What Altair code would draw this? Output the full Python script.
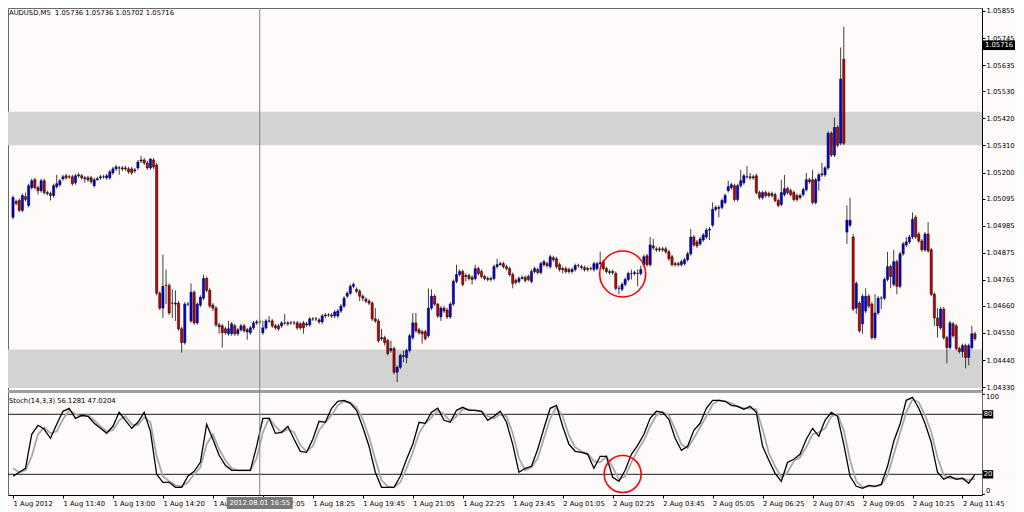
import altair as alt
import pandas as pd

# ---------------- price data (AUDUSD M5, one value per bar) ----------------
opens = [
 1.05019, 1.05083, 1.05087, 1.05047, 1.05103, 1.05067, 1.05139, 1.05171, 1.05139, 1.05127,
 1.05167, 1.05119, 1.05115, 1.05107, 1.05143, 1.05151, 1.05175, 1.05187, 1.05183, 1.05183,
 1.05159, 1.05191, 1.05187, 1.05179, 1.05179, 1.05179, 1.05147, 1.05171, 1.05179, 1.05183,
 1.05179, 1.05179, 1.05199, 1.05215, 1.05219, 1.05219, 1.05219, 1.05215, 1.05215, 1.05207,
 1.05219, 1.05247, 1.05251, 1.05239, 1.05219, 1.05251, 1.05231, 1.04711, 1.04651, 1.04743,
 1.04743, 1.04671, 1.04667, 1.04671, 1.04567, 1.04511, 1.04667, 1.04599, 1.04715, 1.04591,
 1.04663, 1.04691, 1.04771, 1.04723, 1.04663, 1.04651, 1.04583, 1.04579, 1.04567, 1.04547,
 1.04547, 1.04579, 1.04547, 1.04563, 1.04579, 1.04555, 1.04551, 1.04571, 1.04591, 1.04595,
 1.04551, 1.04571, 1.04599, 1.04599, 1.04579, 1.04579, 1.04579, 1.04591, 1.04591, 1.04591,
 1.04591, 1.04591, 1.04587, 1.04591, 1.04583, 1.04583, 1.04607, 1.04607, 1.04603, 1.04595,
 1.04619, 1.04623, 1.04623, 1.04619, 1.04619, 1.04639, 1.04659, 1.04699, 1.04711, 1.04739,
 1.04727, 1.04719, 1.04699, 1.04687, 1.04679, 1.04671, 1.04607, 1.04599, 1.04527, 1.04531,
 1.04519, 1.04479, 1.04487, 1.04391, 1.04411, 1.04459, 1.04451, 1.04479, 1.04531, 1.04591,
 1.04563, 1.04555, 1.04555, 1.04539, 1.04651, 1.04699, 1.04667, 1.04615, 1.04651, 1.04643,
 1.04615, 1.04667, 1.04759, 1.04787, 1.04799, 1.04783, 1.04783, 1.04775, 1.04771, 1.04811,
 1.04799, 1.04779, 1.04771, 1.04771, 1.04771, 1.04819, 1.04827, 1.04831, 1.04819, 1.04811,
 1.04787, 1.04763, 1.04759, 1.04771, 1.04775, 1.04779, 1.04759, 1.04799, 1.04807, 1.04795,
 1.04827, 1.04831, 1.04819, 1.04855, 1.04851, 1.04827, 1.04811, 1.04811, 1.04807, 1.04799,
 1.04807, 1.04823, 1.04819, 1.04815, 1.04811, 1.04811, 1.04807, 1.04811, 1.04831, 1.04839,
 1.04811, 1.04799, 1.04795, 1.04791, 1.04731, 1.04727, 1.04747, 1.04767, 1.04791, 1.04791,
 1.04791, 1.04791, 1.04827, 1.04863, 1.04827, 1.04903, 1.04891, 1.04891, 1.04891, 1.04891,
 1.04879, 1.04859, 1.04831, 1.04831, 1.04827, 1.04831, 1.04847, 1.04871, 1.04939, 1.04919,
 1.04911, 1.04927, 1.04939, 1.04967, 1.04987, 1.05051, 1.05059, 1.05059, 1.05079, 1.05127,
 1.05139, 1.05147, 1.05091, 1.05147, 1.05159, 1.05183, 1.05183, 1.05179, 1.05187, 1.05119,
 1.05099, 1.05119, 1.05115, 1.05115, 1.05111, 1.05087, 1.05071, 1.05111, 1.05135, 1.05127,
 1.05119, 1.05107, 1.05099, 1.05111, 1.05131, 1.05171, 1.05171, 1.05079, 1.05167, 1.05191,
 1.05191, 1.05219, 1.05359, 1.05271, 1.05383, 1.05319, 1.05659, 1.04959, 1.04987, 1.04939,
 1.04651, 1.04671, 1.04587, 1.04639, 1.04699, 1.04667, 1.04531, 1.04631, 1.04691, 1.04691,
 1.04767, 1.04819, 1.04747, 1.04839, 1.04739, 1.04871, 1.04907, 1.04919, 1.04939, 1.05019,
 1.04951, 1.04923, 1.04887, 1.04951, 1.04887, 1.04707, 1.04611, 1.04571, 1.04647, 1.04531,
 1.04491, 1.04587, 1.04579, 1.04487, 1.04475, 1.04499, 1.04451, 1.04491, 1.04547,
]
highs = [
 1.05107, 1.05091, 1.05095, 1.05115, 1.05119, 1.05155, 1.05175, 1.05179, 1.05147, 1.05175,
 1.05175, 1.05127, 1.05123, 1.05155, 1.05191, 1.05175, 1.05191, 1.05195, 1.05191, 1.05191,
 1.05195, 1.05199, 1.05195, 1.05187, 1.05187, 1.05187, 1.05179, 1.05183, 1.05191, 1.05191,
 1.05195, 1.05211, 1.05223, 1.05231, 1.05227, 1.05227, 1.05227, 1.05223, 1.05223, 1.05219,
 1.05251, 1.05267, 1.05259, 1.05247, 1.05259, 1.05259, 1.05239, 1.04719, 1.04867, 1.04807,
 1.04751, 1.04727, 1.04723, 1.04679, 1.04575, 1.04675, 1.04675, 1.04751, 1.04723, 1.04675,
 1.04703, 1.04787, 1.04779, 1.04731, 1.04671, 1.04659, 1.04591, 1.04587, 1.04575, 1.04599,
 1.04595, 1.04587, 1.04571, 1.04587, 1.04587, 1.04571, 1.04579, 1.04599, 1.04603, 1.04603,
 1.04599, 1.04607, 1.04619, 1.04607, 1.04587, 1.04587, 1.04599, 1.04627, 1.04599, 1.04599,
 1.04599, 1.04599, 1.04595, 1.04599, 1.04595, 1.04615, 1.04615, 1.04615, 1.04611, 1.04627,
 1.04631, 1.04631, 1.04631, 1.04643, 1.04647, 1.04667, 1.04699, 1.04719, 1.04747, 1.04755,
 1.04735, 1.04727, 1.04707, 1.04695, 1.04687, 1.04679, 1.04651, 1.04607, 1.04567, 1.04539,
 1.04527, 1.04519, 1.04495, 1.04419, 1.04467, 1.04479, 1.04487, 1.04547, 1.04631, 1.04631,
 1.04571, 1.04563, 1.04563, 1.04731, 1.04727, 1.04707, 1.04671, 1.04659, 1.04659, 1.04651,
 1.04675, 1.04767, 1.04827, 1.04807, 1.04807, 1.04791, 1.04791, 1.04783, 1.04827, 1.04819,
 1.04807, 1.04787, 1.04779, 1.04779, 1.04827, 1.04851, 1.04839, 1.04839, 1.04827, 1.04819,
 1.04795, 1.04771, 1.04779, 1.04783, 1.04783, 1.04787, 1.04807, 1.04819, 1.04815, 1.04839,
 1.04847, 1.04839, 1.04867, 1.04863, 1.04859, 1.04835, 1.04819, 1.04819, 1.04815, 1.04815,
 1.04831, 1.04831, 1.04827, 1.04823, 1.04819, 1.04819, 1.04839, 1.04839, 1.04879, 1.04847,
 1.04819, 1.04807, 1.04807, 1.04799, 1.04743, 1.04755, 1.04775, 1.04799, 1.04807, 1.04803,
 1.04807, 1.04823, 1.04867, 1.04871, 1.04939, 1.04931, 1.04899, 1.04899, 1.04899, 1.04899,
 1.04887, 1.04867, 1.04839, 1.04839, 1.04847, 1.04855, 1.04879, 1.04971, 1.04947, 1.04927,
 1.04939, 1.04955, 1.04975, 1.04979, 1.05079, 1.05067, 1.05067, 1.05095, 1.05115, 1.05167,
 1.05159, 1.05155, 1.05155, 1.05211, 1.05195, 1.05227, 1.05199, 1.05191, 1.05195, 1.05127,
 1.05127, 1.05127, 1.05123, 1.05123, 1.05119, 1.05095, 1.05171, 1.05191, 1.05143, 1.05135,
 1.05127, 1.05115, 1.05115, 1.05139, 1.05199, 1.05179, 1.05211, 1.05179, 1.05199, 1.05239,
 1.05227, 1.05367, 1.05367, 1.05423, 1.05391, 1.05707, 1.05791, 1.05067, 1.05099, 1.04951,
 1.04759, 1.04679, 1.04707, 1.04731, 1.04707, 1.04675, 1.04707, 1.04699, 1.04699, 1.04775,
 1.04879, 1.04827, 1.04887, 1.04847, 1.04879, 1.04919, 1.04939, 1.04947, 1.05039, 1.05027,
 1.04959, 1.04931, 1.04959, 1.04999, 1.04895, 1.04715, 1.04651, 1.04655, 1.04655, 1.04539,
 1.04599, 1.04595, 1.04587, 1.04495, 1.04507, 1.04507, 1.04507, 1.04579, 1.04555,
]
lows = [
 1.05011, 1.05067, 1.05039, 1.05039, 1.05083, 1.05059, 1.05131, 1.05131, 1.05111, 1.05119,
 1.05111, 1.05107, 1.05087, 1.05099, 1.05135, 1.05143, 1.05167, 1.05171, 1.05175, 1.05147,
 1.05151, 1.05179, 1.05171, 1.05159, 1.05163, 1.05155, 1.05139, 1.05167, 1.05171, 1.05175,
 1.05171, 1.05171, 1.05191, 1.05207, 1.05191, 1.05207, 1.05207, 1.05195, 1.05191, 1.05199,
 1.05211, 1.05239, 1.05231, 1.05211, 1.05211, 1.05215, 1.04703, 1.04643, 1.04611, 1.04667,
 1.04623, 1.04611, 1.04599, 1.04559, 1.04471, 1.04503, 1.04659, 1.04591, 1.04583, 1.04583,
 1.04655, 1.04683, 1.04715, 1.04651, 1.04639, 1.04575, 1.04547, 1.04491, 1.04543, 1.04539,
 1.04539, 1.04539, 1.04539, 1.04555, 1.04551, 1.04523, 1.04543, 1.04563, 1.04583, 1.04587,
 1.04543, 1.04563, 1.04591, 1.04571, 1.04563, 1.04559, 1.04571, 1.04583, 1.04579, 1.04583,
 1.04583, 1.04563, 1.04563, 1.04547, 1.04575, 1.04575, 1.04599, 1.04599, 1.04587, 1.04587,
 1.04611, 1.04615, 1.04611, 1.04611, 1.04611, 1.04631, 1.04651, 1.04691, 1.04703, 1.04731,
 1.04711, 1.04679, 1.04679, 1.04671, 1.04663, 1.04599, 1.04591, 1.04511, 1.04519, 1.04499,
 1.04459, 1.04471, 1.04383, 1.04351, 1.04403, 1.04431, 1.04427, 1.04471, 1.04523, 1.04551,
 1.04543, 1.04507, 1.04519, 1.04531, 1.04643, 1.04659, 1.04611, 1.04599, 1.04631, 1.04607,
 1.04607, 1.04659, 1.04751, 1.04779, 1.04739, 1.04759, 1.04763, 1.04747, 1.04763, 1.04783,
 1.04771, 1.04763, 1.04759, 1.04759, 1.04763, 1.04811, 1.04823, 1.04811, 1.04803, 1.04779,
 1.04731, 1.04747, 1.04751, 1.04767, 1.04755, 1.04759, 1.04751, 1.04791, 1.04787, 1.04787,
 1.04819, 1.04815, 1.04811, 1.04839, 1.04811, 1.04799, 1.04791, 1.04791, 1.04791, 1.04791,
 1.04799, 1.04815, 1.04807, 1.04799, 1.04799, 1.04803, 1.04799, 1.04803, 1.04823, 1.04803,
 1.04791, 1.04787, 1.04787, 1.04723, 1.04707, 1.04719, 1.04739, 1.04759, 1.04767, 1.04783,
 1.04739, 1.04783, 1.04819, 1.04819, 1.04819, 1.04887, 1.04879, 1.04879, 1.04879, 1.04871,
 1.04843, 1.04819, 1.04819, 1.04819, 1.04819, 1.04823, 1.04839, 1.04863, 1.04899, 1.04895,
 1.04903, 1.04919, 1.04931, 1.04927, 1.04979, 1.05043, 1.05019, 1.05051, 1.05071, 1.05119,
 1.05131, 1.05083, 1.05083, 1.05139, 1.05151, 1.05175, 1.05171, 1.05171, 1.05111, 1.05091,
 1.05091, 1.05099, 1.05099, 1.05099, 1.05079, 1.05059, 1.05063, 1.05103, 1.05111, 1.05103,
 1.05083, 1.05083, 1.05091, 1.05103, 1.05123, 1.05155, 1.05071, 1.05071, 1.05127, 1.05183,
 1.05183, 1.05211, 1.05263, 1.05263, 1.05303, 1.05311, 1.05311, 1.04911, 1.04979, 1.04639,
 1.04627, 1.04551, 1.04547, 1.04631, 1.04651, 1.04523, 1.04523, 1.04623, 1.04647, 1.04683,
 1.04759, 1.04731, 1.04739, 1.04707, 1.04731, 1.04863, 1.04899, 1.04911, 1.04931, 1.04931,
 1.04915, 1.04879, 1.04879, 1.04875, 1.04699, 1.04579, 1.04531, 1.04563, 1.04523, 1.04427,
 1.04483, 1.04531, 1.04479, 1.04467, 1.04451, 1.04407, 1.04419, 1.04483, 1.04519,
]
closes = [
 1.05099, 1.05075, 1.05047, 1.05107, 1.05091, 1.05147, 1.05167, 1.05139, 1.05127, 1.05167,
 1.05119, 1.05115, 1.05107, 1.05147, 1.05155, 1.05167, 1.05183, 1.05179, 1.05183, 1.05155,
 1.05187, 1.05187, 1.05179, 1.05175, 1.05171, 1.05163, 1.05171, 1.05175, 1.05183, 1.05183,
 1.05187, 1.05203, 1.05215, 1.05223, 1.05219, 1.05215, 1.05215, 1.05203, 1.05199, 1.05211,
 1.05243, 1.05251, 1.05239, 1.05219, 1.05255, 1.05223, 1.04711, 1.04651, 1.04739, 1.04743,
 1.04631, 1.04671, 1.04671, 1.04567, 1.04511, 1.04667, 1.04667, 1.04715, 1.04591, 1.04667,
 1.04695, 1.04771, 1.04723, 1.04659, 1.04651, 1.04583, 1.04575, 1.04551, 1.04551, 1.04567,
 1.04587, 1.04547, 1.04563, 1.04579, 1.04559, 1.04563, 1.04571, 1.04591, 1.04595, 1.04595,
 1.04571, 1.04599, 1.04599, 1.04579, 1.04571, 1.04567, 1.04591, 1.04591, 1.04587, 1.04591,
 1.04591, 1.04571, 1.04571, 1.04571, 1.04587, 1.04607, 1.04607, 1.04607, 1.04595, 1.04619,
 1.04623, 1.04623, 1.04619, 1.04635, 1.04639, 1.04659, 1.04691, 1.04711, 1.04739, 1.04747,
 1.04719, 1.04699, 1.04691, 1.04679, 1.04671, 1.04607, 1.04599, 1.04519, 1.04531, 1.04511,
 1.04467, 1.04487, 1.04391, 1.04411, 1.04459, 1.04455, 1.04479, 1.04539, 1.04591, 1.04559,
 1.04551, 1.04547, 1.04527, 1.04651, 1.04699, 1.04667, 1.04619, 1.04651, 1.04639, 1.04615,
 1.04667, 1.04759, 1.04787, 1.04799, 1.04747, 1.04779, 1.04771, 1.04767, 1.04811, 1.04791,
 1.04779, 1.04771, 1.04767, 1.04767, 1.04819, 1.04827, 1.04831, 1.04819, 1.04811, 1.04787,
 1.04751, 1.04755, 1.04771, 1.04775, 1.04763, 1.04767, 1.04799, 1.04811, 1.04795, 1.04831,
 1.04839, 1.04823, 1.04859, 1.04847, 1.04819, 1.04807, 1.04807, 1.04799, 1.04799, 1.04807,
 1.04823, 1.04823, 1.04815, 1.04807, 1.04807, 1.04811, 1.04831, 1.04831, 1.04835, 1.04811,
 1.04799, 1.04795, 1.04799, 1.04731, 1.04731, 1.04747, 1.04767, 1.04791, 1.04791, 1.04795,
 1.04791, 1.04807, 1.04859, 1.04827, 1.04907, 1.04895, 1.04887, 1.04887, 1.04887, 1.04879,
 1.04851, 1.04827, 1.04827, 1.04827, 1.04839, 1.04847, 1.04871, 1.04939, 1.04907, 1.04903,
 1.04931, 1.04947, 1.04967, 1.04971, 1.05051, 1.05059, 1.05055, 1.05087, 1.05107, 1.05143,
 1.05151, 1.05091, 1.05147, 1.05167, 1.05187, 1.05183, 1.05179, 1.05183, 1.05119, 1.05099,
 1.05119, 1.05107, 1.05107, 1.05107, 1.05087, 1.05067, 1.05119, 1.05135, 1.05119, 1.05111,
 1.05091, 1.05091, 1.05107, 1.05131, 1.05171, 1.05163, 1.05079, 1.05171, 1.05191, 1.05195,
 1.05219, 1.05359, 1.05271, 1.05383, 1.05311, 1.05579, 1.05319, 1.05007, 1.05007, 1.04647,
 1.04751, 1.04559, 1.04699, 1.04699, 1.04659, 1.04531, 1.04631, 1.04691, 1.04691, 1.04767,
 1.04819, 1.04779, 1.04839, 1.04739, 1.04871, 1.04911, 1.04919, 1.04939, 1.05011, 1.04939,
 1.04923, 1.04887, 1.04951, 1.04883, 1.04707, 1.04611, 1.04579, 1.04647, 1.04531, 1.04491,
 1.04591, 1.04539, 1.04487, 1.04475, 1.04499, 1.04451, 1.04499, 1.04547, 1.04527,
]

# ---------------- Stochastic(14,3,3), read every second bar ----------------
stoch_main = [
 18, 22, 26, 60, 69, 65, 56, 70, 83, 86,
 76, 79, 78, 71, 66, 61, 68, 82, 74, 66,
 72, 82, 63, 20, 12, 12, 7, 7, 18, 23,
 32, 70, 55, 39, 29, 24, 24, 24, 24, 48,
 76, 76, 61, 62, 68, 55, 43, 42, 55, 73,
 72, 86, 93, 94, 91, 84, 67, 48, 22, 7,
 7, 7, 18, 35, 50, 72, 71, 82, 86, 74,
 72, 84, 87, 84, 84, 83, 74, 78, 83, 72,
 50, 22, 26, 28, 45, 66, 86, 89, 68, 50,
 43, 42, 40, 26, 38, 38, 17, 13, 24, 40,
 49, 60, 76, 83, 82, 75, 56, 44, 48, 64,
 71, 86, 94, 94, 93, 89, 88, 85, 88, 82,
 48, 34, 21, 13, 32, 35, 40, 55, 66, 58,
 74, 82, 78, 50, 18, 8, 6, 9, 8, 10,
 28, 53, 70, 94, 97, 86, 71, 52, 22, 15,
 18, 15, 16, 11, 20,
]
stoch_signal = [
 26, 22, 24, 38, 60, 67, 61, 63, 75, 84,
 80, 78, 79, 74, 68, 63, 64, 74, 78, 70,
 69, 77, 72, 38, 18, 13, 9, 8, 12, 20,
 27, 50, 60, 45, 34, 26, 24, 24, 24, 36,
 62, 76, 68, 62, 65, 62, 49, 43, 48, 64,
 72, 79, 89, 93, 92, 87, 75, 57, 35, 14,
 8, 7, 12, 26, 42, 61, 71, 77, 84, 80,
 73, 78, 85, 85, 84, 83, 78, 76, 80, 78,
 61, 36, 24, 27, 36, 56, 76, 87, 78, 59,
 47, 43, 41, 33, 32, 38, 27, 15, 18, 32,
 44, 54, 68, 79, 82, 79, 65, 50, 46, 56,
 67, 78, 90, 94, 93, 91, 88, 86, 86, 85,
 65, 41, 28, 17, 22, 33, 37, 47, 60, 62,
 66, 78, 80, 64, 34, 13, 7, 8, 8, 9,
 19, 40, 61, 82, 95, 92, 79, 62, 37, 19,
 16, 16, 16, 14, 16,
]
stoch_bars = list(range(0, 309, 2))
stoch_levels = [80, 20]
stoch_axis_top = [100]
stoch_axis_bottom = [0]

# ---------------- axes / annotations ----------------
time_ticks = [0, 16, 32, 48, 64, 80, 96, 112, 128, 144, 160, 176, 192, 208, 224, 240, 256, 272, 288, 304]
time_labels = ["1 Aug 2012", "1 Aug 11:40", "1 Aug 13:00", "1 Aug 14:20", "1 Aug 15:40",
               "1 Aug 17:05", "1 Aug 18:25", "1 Aug 19:45", "1 Aug 21:05", "1 Aug 22:25",
               "1 Aug 23:45", "2 Aug 01:05", "2 Aug 02:25", "2 Aug 03:45", "2 Aug 05:05",
               "2 Aug 06:25", "2 Aug 07:45", "2 Aug 09:05", "2 Aug 10:25", "2 Aug 11:45"]
price_ticks = [1.05855, 1.05745, 1.05635, 1.05530, 1.05420, 1.05310, 1.05200, 1.05095,
               1.04985, 1.04875, 1.04765, 1.04660, 1.04550, 1.04440, 1.04330]
zone_tops = [1.05447, 1.04483]
zone_bottoms = [1.05311, 1.04327]
cursor_bar = 79
cursor_label = "2012.08.01 16:55"
last_price = 1.05716
price_title = "AUDUSD,M5\u00a0\u00a01.05736 1.05736 1.05702 1.05716"
stoch_title = "Stoch(14,3,3) 56.1281 47.0204"
circle_bars = [195.2]
circle_price = [1.04789]
circle_stoch = [20.3]

FONT = "DejaVu Sans"
FS = 6.8
W, H = 974, 487          # plot area (both panels share it)
PRICE_BOTTOM = 382       # price panel occupies 0..382
STOCH_TOP = 385          # stochastic panel occupies 385..487

xscale = alt.Scale(domain=[0, 308.65], nice=False, zero=False)
pscale = alt.Scale(domain=[1.04319, 1.05867], range=[PRICE_BOTTOM, 0], nice=False, zero=False)
sscale = alt.Scale(domain=[-0.7, 101.3], range=[H, STOCH_TOP], nice=False, zero=False)

paxis = alt.Axis(orient="right", values=price_ticks, format=".5f", title=None, grid=False,
                 tickSize=3, labelPadding=1, labelOverlap=False, labelFlush=False)
label_expr = "[" + ",".join("'%s'" % t for t in time_labels) + "][round(datum.value/16)]"
xaxis = alt.Axis(values=time_ticks, labelExpr=label_expr, title=None, grid=False, tickSize=3,
                 labelAlign="left", labelBaseline="top", labelPadding=2, labelFlush=False,
                 labelOverlap=False)

X = alt.X("bar:Q", scale=xscale, axis=xaxis)


def PY(field, axis=None):
    return alt.Y(field, scale=pscale, axis=axis)


def SY(field):
    return alt.Y(field, scale=sscale, axis=None)


df = pd.DataFrame({"bar": list(range(len(opens))), "open": opens, "high": highs,
                   "low": lows, "close": closes})
df["dir"] = ["up" if c >= o else "down" for o, c in zip(opens, closes)]

one = pd.DataFrame({"a": [0]})

zones = alt.Chart(pd.DataFrame({"top": zone_tops, "bottom": zone_bottoms})).mark_rect(
    color="#d3d3d3").encode(y=PY("top:Q", paxis), y2="bottom:Q")

sep = alt.Chart(one).mark_rule(color="#a0a0a0", strokeWidth=3).encode(
    x=alt.value(0), x2=alt.value(W), y=alt.value(PRICE_BOTTOM + 1.5))

wicks = alt.Chart(df).mark_rule(color="#2a2a2a", strokeWidth=0.9).encode(
    x=X, y=PY("low:Q"), y2="high:Q")

bodies = alt.Chart(df).mark_bar(size=2.2, stroke="black", strokeWidth=0.5).encode(
    x=X, y=PY("open:Q"), y2="close:Q",
    color=alt.Color("dir:N", scale=alt.Scale(domain=["up", "down"], range=["#0000f0", "#c80000"]),
                    legend=None))

sdf = pd.DataFrame({"bar": stoch_bars, "main": stoch_main, "signal": stoch_signal})
lv_df = pd.DataFrame({"lvl": stoch_levels, "t": [str(v) for v in stoch_levels]})
levels = alt.Chart(lv_df).mark_rule(color="#1a1a1a", strokeWidth=1).encode(y=SY("lvl:Q"))
sig = alt.Chart(sdf).mark_line(color="#a8a8a8", strokeWidth=1.8).encode(x=X, y=SY("signal:Q"))
mainl = alt.Chart(sdf).mark_line(color="black", strokeWidth=1.3).encode(x=X, y=SY("main:Q"))

cur_df = pd.DataFrame({"bar": [cursor_bar], "lab": [cursor_label]})
cursor = alt.Chart(cur_df).mark_rule(color="#808080", strokeWidth=1).encode(x=X)

circ_p = alt.Chart(pd.DataFrame({"bar": circle_bars, "v": circle_price})).mark_point(
    shape="circle", size=2116, filled=False, color="#ff0000", strokeWidth=1.6, opacity=1).encode(
    x=X, y=PY("v:Q"))
circ_s = alt.Chart(pd.DataFrame({"bar": circle_bars, "v": circle_stoch})).mark_point(
    shape="circle", size=1369, filled=False, color="#ff0000", strokeWidth=1.6, opacity=1).encode(
    x=X, y=SY("v:Q"))

ptitle = alt.Chart(pd.DataFrame({"t": [price_title]})).mark_text(
    align="left", baseline="middle", font=FONT, fontSize=FS, color="black").encode(
    x=alt.value(1), y=alt.value(5), text="t:N")
stitle = alt.Chart(pd.DataFrame({"t": [stoch_title]})).mark_text(
    align="left", baseline="middle", font=FONT, fontSize=FS, color="black").encode(
    x=alt.value(1), y=alt.value(STOCH_TOP + 8), text="t:N")

last_df = pd.DataFrame({"v": [last_price], "t": ["1.05716"]})
last_box = alt.Chart(last_df).mark_point(shape="M-1,-0.3H1V0.3H-1Z", size=1024, filled=True,
                                         color="black", opacity=1).encode(
    x=alt.value(W + 17), y=PY("v:Q"))
last_txt = alt.Chart(last_df).mark_text(align="left", baseline="middle", font=FONT, fontSize=FS,
                                        color="white").encode(
    x=alt.value(W + 3), y=PY("v:Q"), text="t:N")

lv_box = alt.Chart(lv_df).mark_point(shape="M-1,-0.8H1V0.8H-1Z", size=110, filled=True,
                                     color="black", opacity=1).encode(
    x=alt.value(W + 6), y=SY("lvl:Q"))
lv_txt = alt.Chart(lv_df).mark_text(align="center", baseline="middle", font=FONT, fontSize=FS,
                                    color="white").encode(
    x=alt.value(W + 6), y=SY("lvl:Q"), text="t:N")

s_ticks = alt.Chart(pd.DataFrame({"v": stoch_axis_top + stoch_axis_bottom})).mark_rule(
    color="black", strokeWidth=1).encode(x=alt.value(W), x2=alt.value(W + 3), y=SY("v:Q"))
s_top = alt.Chart(pd.DataFrame({"v": stoch_axis_top})).mark_text(
    align="left", baseline="top", font=FONT, fontSize=FS, color="black").encode(
    x=alt.value(W + 4), y=SY("v:Q"), text=alt.Text("v:Q", format="d"))
s_bot = alt.Chart(pd.DataFrame({"v": stoch_axis_bottom})).mark_text(
    align="left", baseline="bottom", font=FONT, fontSize=FS, color="black").encode(
    x=alt.value(W + 4), y=SY("v:Q"), text=alt.Text("v:Q", format="d"))

cur_box = alt.Chart(cur_df).mark_point(shape="M-1,-0.185H1V0.185H-1Z", size=4356, filled=True,
                                       color="#7a7a7a", opacity=1).encode(
    x=X, y=alt.value(H + 8))
cur_txt = alt.Chart(cur_df).mark_text(align="center", baseline="middle", font=FONT, fontSize=FS,
                                      color="white").encode(
    x=X, y=alt.value(H + 8), text="lab:N")

chart = alt.layer(
    zones, sep, wicks, bodies, levels, sig, mainl, cursor, circ_p, circ_s,
    ptitle, stitle, last_box, last_txt, lv_box, lv_txt, s_ticks, s_top, s_bot, cur_box, cur_txt,
).resolve_scale(y="independent").properties(
    width=W, height=H,
    autosize=alt.AutoSizeParams(type="none"),
    padding={"left": 0, "top": 0, "right": 1008 - W, "bottom": 16},
    background="#fffafa",
).configure_view(stroke="#6a6a6a", strokeWidth=1, fill="#fffafa").configure_axis(
    labelFont=FONT, labelFontSize=FS, labelColor="black", domainColor="black",
    tickColor="black", domainWidth=1, tickWidth=1,
)

chart.save("out.html", embed_options={"renderer": "svg", "actions": False})
